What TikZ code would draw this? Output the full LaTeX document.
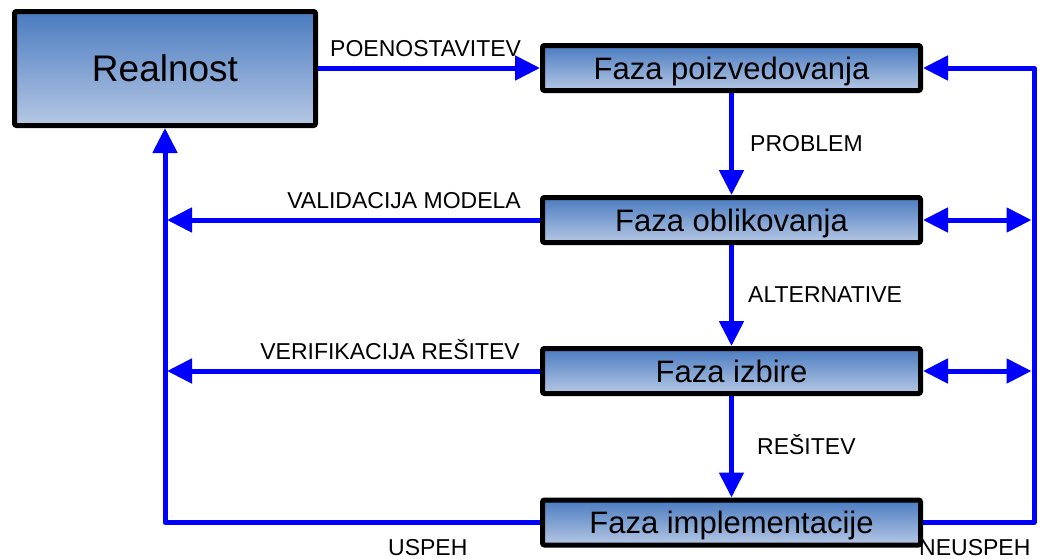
\documentclass[tikz,border=0pt]{standalone}
\usepackage{fontspec}
\setmainfont{Liberation Sans}
\usetikzlibrary{arrows.meta,backgrounds}

\definecolor{boxtop}{RGB}{74,123,192}
\definecolor{boxbot}{RGB}{182,200,228}
\definecolor{flow}{RGB}{0,0,255}

\tikzset{
  phase/.style={draw=black, line width=5pt, rounded corners=2pt,
    top color=boxtop, bottom color=boxbot, inner sep=0pt,
    minimum width=378pt, minimum height=45pt,
    font=\fontsize{31}{31}\selectfont, text height=22.3pt, text depth=0pt},
  conn/.style={draw=flow, line width=5pt, line join=round},
  head/.style={-{Triangle[length=25pt,width=24pt]}},
  heads/.style={{Triangle[length=25pt,width=24pt]}-{Triangle[length=25pt,width=24pt]}},
  lbl/.style={font=\fontsize{23}{23}\selectfont, inner sep=0pt}
}

\begin{document}
\begin{tikzpicture}[x=1pt,y=-1pt]
  \useasboundingbox (0,0) rectangle (1058,558);

  % boxes
  \node[phase, minimum width=301pt, minimum height=114pt,
        font=\fontsize{37}{37}\selectfont, text height=26.6pt] (real) at (165,68.5) {Realnost};
  \node[phase] (poiz) at (731.5,68) {Faza poizvedovanja};
  \node[phase] (oblik) at (731.5,220) {Faza oblikovanja};
  \node[phase] (izb) at (731.5,371) {Faza izbire};
  \node[phase] (impl) at (731.5,522.5) {Faza implementacije};

  % bus line end points
  \coordinate (lval) at (167,220);
  \coordinate (lver) at (167,371);
  \coordinate (rtop) at (1034,68);
  \coordinate (robl) at (1031.5,220);
  \coordinate (rizb) at (1031.5,371);

  \begin{scope}[on background layer]
    \fill[white] (0,0) rectangle (1058,558);
    \draw[conn, head] (real.east |- poiz.west) -- (poiz.west);
    \draw[conn, head] (poiz.south) -- (oblik.north);
    \draw[conn, head] (oblik.south) -- (izb.north);
    \draw[conn, head] (izb.south) -- (impl.north);
    \draw[conn, head] (oblik.west) -- (lval);
    \draw[conn, head] (izb.west) -- (lver);
    \draw[conn, head] (impl.west) -| (real.south);
    \draw[conn, head] (impl.east) -| (rtop) -- (poiz.east);
    \draw[conn, heads] (oblik.east) -- (robl);
    \draw[conn, heads] (izb.east) -- (rizb);
  \end{scope}

  % labels
  \node[lbl, anchor=base west] (tpoen) at (330,56.7) {POENOSTAVITEV};
  \node[lbl, anchor=base west] (tprob) at (750,151.7) {PROBLEM};
  \node[lbl, anchor=base east] (tval) at (521,208) {VALIDACIJA MODELA};
  \node[lbl, anchor=base west] (talt) at (748,302) {ALTERNATIVE};
  \node[lbl, anchor=base east] (tver) at (520,359) {VERIFIKACIJA REŠITEV};
  \node[lbl, anchor=base west] (tres) at (757,454) {REŠITEV};
  \node[lbl, anchor=base west] (tusp) at (388,555) {USPEH};
  \node[lbl, anchor=base west] (tneu) at (919,555) {NEUSPEH};
\end{tikzpicture}
\end{document}
